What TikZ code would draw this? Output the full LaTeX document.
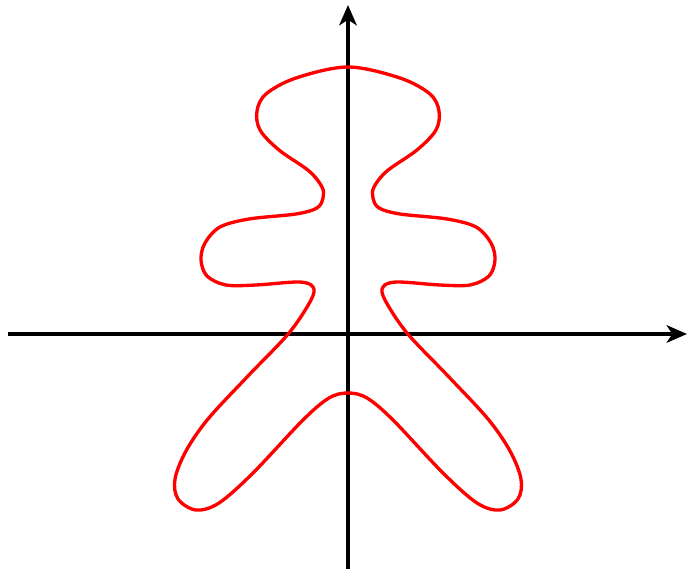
\documentclass[tikz,border=0pt]{standalone}
\usetikzlibrary{arrows.meta}

\begin{document}
\begin{tikzpicture}[
    axis/.style={-{Stealth[length=5.8pt, width=5pt, inset=1.6pt]}, line width=0.9pt, black},
    curve/.style={red, line width=0.95pt}
]
    \useasboundingbox (-3.48,-2.35) rectangle (3.39,3.34);

    % axes
    \coordinate (xl) at (-3.40,0);
    \coordinate (xr) at (3.39,0);
    \coordinate (yb) at (0,-2.35);
    \coordinate (yt) at (0,3.29);
    \draw[axis] (xl) -- (xr);
    \draw[axis] (yb) -- (yt);

    % the curve, right half then mirrored
    \draw[curve] plot[smooth cycle, tension=0.55] coordinates {
        (0,2.67) (0.52,2.56) (0.82,2.40) (0.91,2.23) (0.88,2.04)
        (0.69,1.84) (0.39,1.63) (0.26,1.47) (0.25,1.36) (0.31,1.26)
        (0.52,1.20) (0.99,1.15) (1.28,1.07) (1.43,0.91) (1.47,0.74)
        (1.41,0.58) (1.22,0.49) (0.92,0.49) (0.49,0.52) (0.35,0.47)
        (0.37,0.34) (0.59,0.01) (1.00,-0.42) (1.40,-0.85) (1.62,-1.17)
        (1.73,-1.45) (1.70,-1.65) (1.52,-1.76) (1.29,-1.69) (0.95,-1.39)
        (0.45,-0.86) (0.19,-0.64) (0,-0.59)
        (-0.19,-0.64) (-0.45,-0.86) (-0.95,-1.39) (-1.29,-1.69) (-1.52,-1.76)
        (-1.70,-1.65) (-1.73,-1.45) (-1.62,-1.17) (-1.40,-0.85) (-1.00,-0.42)
        (-0.59,0.01) (-0.37,0.34) (-0.35,0.47) (-0.49,0.52) (-0.92,0.49)
        (-1.22,0.49) (-1.41,0.58) (-1.47,0.74) (-1.43,0.91) (-1.28,1.07)
        (-0.99,1.15) (-0.52,1.20) (-0.31,1.26) (-0.25,1.36) (-0.26,1.47)
        (-0.39,1.63) (-0.69,1.84) (-0.88,2.04) (-0.91,2.23) (-0.82,2.40)
        (-0.52,2.56)
    };
\end{tikzpicture}
\end{document}
